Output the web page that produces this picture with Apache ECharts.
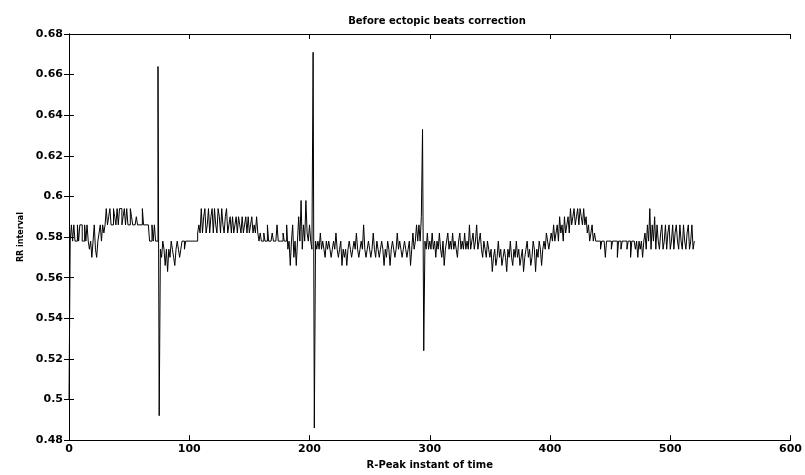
<!DOCTYPE html>
<html>
<head>
<meta charset="utf-8">
<title>Before ectopic beats correction</title>
<script src="https://cdn.jsdelivr.net/npm/echarts@6/dist/echarts.min.js"></script>
<style>
  html, body { margin: 0; padding: 0; background: #fff; }
  #mainBox { width: 805px; height: 475px; }
</style>
</head>
<body>
<div id="mainBox"></div>
<script>
// RR intervals (s), one per R-peak in blocks of 100 beats
var rrSeg1 = [
  0.500, 0.578, 0.586, 0.578, 0.586, 0.578, 0.578, 0.586, 0.578, 0.586,
  0.586, 0.578, 0.578, 0.586, 0.578, 0.586, 0.578, 0.574, 0.578, 0.570,
  0.578, 0.586, 0.574, 0.570, 0.578, 0.582, 0.586, 0.578, 0.586, 0.582,
  0.586, 0.594, 0.586, 0.590, 0.594, 0.586, 0.586, 0.594, 0.590, 0.586,
  0.594, 0.586, 0.594, 0.594, 0.586, 0.590, 0.594, 0.586, 0.594, 0.586,
  0.586, 0.594, 0.590, 0.586, 0.586, 0.586, 0.590, 0.586, 0.586, 0.586,
  0.586, 0.594, 0.586, 0.586, 0.586, 0.586, 0.586, 0.578, 0.578, 0.586,
  0.578, 0.586, 0.578, 0.578, 0.664, 0.492, 0.574, 0.570, 0.578, 0.574,
  0.566, 0.574, 0.563, 0.574, 0.570, 0.578, 0.574, 0.570, 0.566, 0.574,
  0.578, 0.574, 0.570, 0.574, 0.578, 0.578, 0.574, 0.578, 0.578, 0.578
];
var rrSeg2 = [
  0.578, 0.578, 0.578, 0.578, 0.578, 0.578, 0.578, 0.582, 0.586, 0.582,
  0.594, 0.582, 0.590, 0.594, 0.582, 0.586, 0.594, 0.582, 0.590, 0.594,
  0.582, 0.594, 0.586, 0.582, 0.594, 0.590, 0.582, 0.594, 0.586, 0.582,
  0.590, 0.594, 0.582, 0.586, 0.590, 0.582, 0.590, 0.582, 0.586, 0.590,
  0.582, 0.590, 0.586, 0.582, 0.590, 0.582, 0.586, 0.590, 0.582, 0.590,
  0.582, 0.586, 0.590, 0.582, 0.586, 0.582, 0.590, 0.582, 0.578, 0.582,
  0.578, 0.578, 0.582, 0.578, 0.578, 0.586, 0.578, 0.578, 0.578, 0.582,
  0.578, 0.578, 0.578, 0.586, 0.578, 0.578, 0.578, 0.578, 0.582, 0.578,
  0.578, 0.586, 0.574, 0.578, 0.566, 0.578, 0.586, 0.570, 0.578, 0.566,
  0.578, 0.590, 0.578, 0.598, 0.574, 0.586, 0.578, 0.598, 0.582, 0.578
];
var rrSeg3 = [
  0.586, 0.578, 0.574, 0.671, 0.486, 0.578, 0.574, 0.578, 0.574, 0.582,
  0.574, 0.578, 0.574, 0.570, 0.578, 0.574, 0.578, 0.574, 0.570, 0.574,
  0.578, 0.574, 0.582, 0.574, 0.570, 0.574, 0.578, 0.566, 0.574, 0.570,
  0.574, 0.566, 0.574, 0.578, 0.574, 0.570, 0.574, 0.578, 0.574, 0.582,
  0.574, 0.570, 0.574, 0.578, 0.574, 0.586, 0.574, 0.570, 0.574, 0.578,
  0.574, 0.570, 0.574, 0.582, 0.574, 0.570, 0.578, 0.574, 0.570, 0.574,
  0.578, 0.574, 0.566, 0.574, 0.570, 0.578, 0.574, 0.566, 0.574, 0.578,
  0.574, 0.570, 0.574, 0.582, 0.574, 0.578, 0.574, 0.570, 0.574, 0.578,
  0.574, 0.570, 0.574, 0.578, 0.566, 0.574, 0.582, 0.574, 0.578, 0.586,
  0.578, 0.586, 0.578, 0.590, 0.633, 0.524, 0.578, 0.574, 0.582, 0.574
];
var rrSeg4 = [
  0.578, 0.574, 0.582, 0.574, 0.578, 0.570, 0.578, 0.574, 0.582, 0.574,
  0.570, 0.578, 0.566, 0.574, 0.578, 0.582, 0.574, 0.578, 0.574, 0.582,
  0.574, 0.578, 0.574, 0.570, 0.578, 0.582, 0.574, 0.578, 0.574, 0.582,
  0.574, 0.578, 0.574, 0.586, 0.574, 0.578, 0.582, 0.574, 0.578, 0.586,
  0.574, 0.578, 0.582, 0.574, 0.570, 0.578, 0.574, 0.570, 0.578, 0.574,
  0.570, 0.574, 0.563, 0.570, 0.574, 0.566, 0.570, 0.578, 0.570, 0.574,
  0.566, 0.570, 0.574, 0.570, 0.563, 0.574, 0.570, 0.578, 0.570, 0.566,
  0.574, 0.570, 0.578, 0.570, 0.574, 0.566, 0.570, 0.574, 0.563, 0.570,
  0.574, 0.578, 0.570, 0.574, 0.566, 0.570, 0.578, 0.574, 0.563, 0.574,
  0.570, 0.578, 0.574, 0.566, 0.574, 0.578, 0.574, 0.582, 0.578, 0.574
];
var rrSeg5 = [
  0.578, 0.582, 0.578, 0.586, 0.578, 0.582, 0.586, 0.578, 0.590, 0.582,
  0.586, 0.578, 0.590, 0.582, 0.586, 0.590, 0.582, 0.594, 0.586, 0.590,
  0.594, 0.586, 0.590, 0.594, 0.586, 0.594, 0.590, 0.586, 0.594, 0.586,
  0.590, 0.582, 0.586, 0.578, 0.582, 0.586, 0.578, 0.582, 0.578, 0.578,
  0.578, 0.578, 0.574, 0.578, 0.578, 0.578, 0.570, 0.578, 0.578, 0.578,
  0.578, 0.574, 0.578, 0.578, 0.578, 0.578, 0.570, 0.578, 0.578, 0.574,
  0.578, 0.578, 0.578, 0.578, 0.574, 0.578, 0.578, 0.570, 0.578, 0.578,
  0.578, 0.574, 0.578, 0.570, 0.578, 0.574, 0.578, 0.570, 0.578, 0.582,
  0.574, 0.586, 0.578, 0.594, 0.574, 0.586, 0.578, 0.590, 0.574, 0.586,
  0.578, 0.574, 0.582, 0.586, 0.574, 0.578, 0.586, 0.574, 0.582, 0.586
];
var rrSeg6 = [
  0.574, 0.578, 0.586, 0.574, 0.582, 0.586, 0.578, 0.574, 0.586, 0.578,
  0.574, 0.586, 0.578, 0.574, 0.582, 0.586, 0.574, 0.578, 0.586, 0.574,
  0.578
];

var xTicks = { min: 0, max: 600, step: 100 };
var yTicks = { min: 0.48, max: 0.68, step: 0.02 };

var rr = rrSeg1.concat(rrSeg2, rrSeg3, rrSeg4, rrSeg5, rrSeg6);
var points = rr.map(function (v, i) { return [i, v]; });

var myChart = echarts.init(document.getElementById('mainBox'));

var font = 'DejaVu Sans';
var lineBlack = { show: true, lineStyle: { color: '#000', width: 1 } };
var tickIn = { show: true, inside: true, length: 5, lineStyle: { color: '#000', width: 1 } };

var option = {
  animation: false,
  backgroundColor: '#fff',
  title: {
    text: 'Before ectopic beats correction',
    left: 432,
    top: 11,
    textAlign: 'center',
    textStyle: { fontFamily: font, fontSize: 10, fontWeight: 'bold', color: '#000' }
  },
  grid: { left: 69, right: 9, top: 34, bottom: 28 },
  xAxis: [
    {
      type: 'value',
      min: xTicks.min, max: xTicks.max, interval: xTicks.step,
      position: 'bottom',
      axisLine: lineBlack,
      axisTick: tickIn,
      splitLine: { show: false },
      axisLabel: { color: '#000', fontFamily: font, fontSize: 11, fontWeight: 'bold', margin: 4 },
      name: 'R-Peak instant of time',
      nameLocation: 'middle',
      nameGap: 18,
      nameTextStyle: { color: '#000', fontFamily: font, fontSize: 10, fontWeight: 'bold' }
    },
    {
      type: 'value',
      min: xTicks.min, max: xTicks.max, interval: xTicks.step,
      position: 'top',
      axisLine: lineBlack,
      axisTick: tickIn,
      splitLine: { show: false },
      axisLabel: { show: false }
    }
  ],
  yAxis: [
    {
      type: 'value',
      min: yTicks.min, max: yTicks.max, interval: yTicks.step,
      position: 'left',
      axisLine: lineBlack,
      axisTick: tickIn,
      splitLine: { show: false },
      axisLabel: {
        color: '#000', fontFamily: font, fontSize: 11, fontWeight: 'bold', margin: 6,
        formatter: function (v) { return String(parseFloat(v.toFixed(2))); }
      },
      name: 'RR interval',
      nameLocation: 'middle',
      nameRotate: 90,
      nameGap: 44,
      nameTextStyle: { color: '#000', fontFamily: font, fontSize: 8, fontWeight: 'bold' }
    },
    {
      type: 'value',
      min: yTicks.min, max: yTicks.max, interval: yTicks.step,
      position: 'right',
      axisLine: lineBlack,
      axisTick: tickIn,
      splitLine: { show: false },
      axisLabel: { show: false }
    }
  ],
  series: [
    {
      name: 'RR',
      type: 'line',
      step: 'end',
      xAxisIndex: 0,
      yAxisIndex: 0,
      data: points,
      showSymbol: false,
      lineStyle: { color: '#000', width: 1 },
      silent: true
    }
  ]
};

myChart.setOption(option);
</script>
</body>
</html>
